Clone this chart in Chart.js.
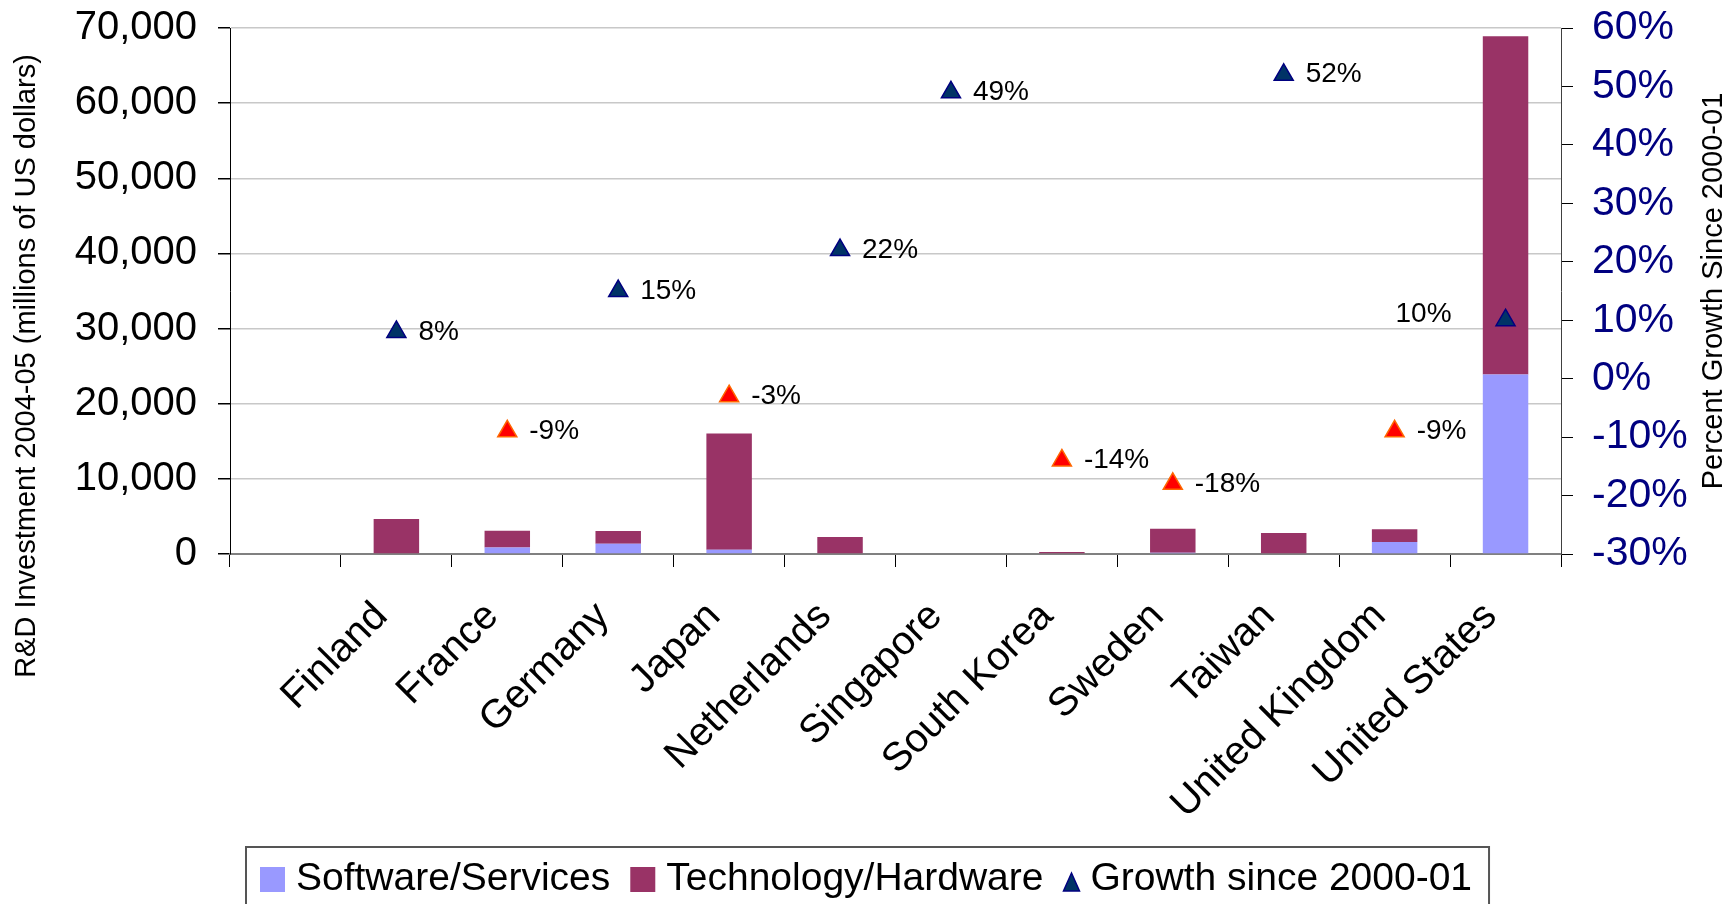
<!DOCTYPE html>
<html>
<head>
<meta charset="utf-8">
<title>R&amp;D Investment 2004-05</title>
<script src="https://cdn.jsdelivr.net/npm/chart.js@4.4.0/dist/chart.umd.min.js"></script>
<style>
  html, body { margin: 0; padding: 0; background: #fff; }
  #wrap { width: 1733px; height: 904px; }
</style>
</head>
<body>
<div id="wrap"><canvas id="chart-rd" width="1733" height="904"></canvas></div>
<script>
// categories: the first slot is left empty on purpose
const categories = ["", "Finland", "France", "Germany", "Japan", "Netherlands", "Singapore",
  "South Korea", "Sweden", "Taiwan", "United Kingdom", "United States"];

// R&D investment 2004-05 (millions of US dollars)
const softwareServices   = [null, 0, 850, 1350, 550, 0, 0, 0, 150, 0, 1600, 23900];
const technologyHardware = [null, 4650, 2250, 1700, 15500, 2250, 0, 270, 3200, 2800, 1700, 45000];

// percent growth since 2000-01
const growth = [null, 8, -9, 15, -3, 22, 49, -14, -18, 52, -9, 10];

// axis ticks
const investTicks = [0, 10000, 20000, 30000, 40000, 50000, 60000, 70000];
const growthTicks = [-30, -20, -10, 0, 10, 20, 30, 40, 50, 60];

const FONT = '"Liberation Sans", Arial, sans-serif';
const SW_COLOR = "#9999FF";
const HW_COLOR = "#993366";
const UP_FILL = "#003366", UP_LINE = "#000080";
const DOWN_FILL = "#FF0000", DOWN_LINE = "#FF6600";
const LEGEND_H = 58;

Chart.defaults.font.family = FONT;
Chart.defaults.color = "#000";

function drawTriangle(g, cx, bottom, w, h, fill, line) {
  g.beginPath();
  g.moveTo(cx, bottom - h);
  g.lineTo(cx + w / 2, bottom);
  g.lineTo(cx - w / 2, bottom);
  g.closePath();
  g.fillStyle = fill; g.fill();
  g.strokeStyle = line; g.lineWidth = 1.5; g.stroke();
}

// percent labels, axis titles and the boxed legend under the chart
const extras = {
  id: "extras",
  afterDatasetsDraw(chart) {
    const ctx = chart.ctx;
    const meta = chart.getDatasetMeta(2);
    ctx.save();
    ctx.font = "28px " + FONT;
    ctx.fillStyle = "#000";
    ctx.textBaseline = "middle";
    meta.data.forEach((pt, i) => {
      const v = growth[i];
      if (v === null) return;
      const txt = v + "%";
      if (categories[i] === "United States") {
        ctx.textAlign = "right";
        ctx.fillText(txt, pt.x - 54, pt.y - 6);
      } else {
        ctx.textAlign = "left";
        ctx.fillText(txt, pt.x + 22, pt.y);
      }
    });
    ctx.restore();
  },
  afterDraw(chart) {
    const ctx = chart.ctx;
    const area = chart.chartArea;
    ctx.save();
    ctx.font = "29px " + FONT;
    ctx.fillStyle = "#000";
    ctx.textAlign = "center";
    ctx.textBaseline = "middle";

    ctx.save();
    ctx.translate(27, 366);
    ctx.rotate(-Math.PI / 2);
    ctx.fillText("R&D Investment 2004-05 (millions of US dollars)", 0, 0);
    ctx.restore();

    ctx.save();
    ctx.translate(1714, (area.top + area.bottom) / 2);
    ctx.rotate(-Math.PI / 2);
    ctx.fillText("Percent Growth Since 2000-01", 0, 0);
    ctx.restore();

    // legend
    const ds = chart.data.datasets;
    const items = [
      { text: ds[0].label, icon: "box", color: SW_COLOR },
      { text: ds[1].label, icon: "box", color: HW_COLOR },
      { text: ds[2].label, icon: "tri" }
    ];
    const top = chart.height - LEGEND_H;
    const base = top + 44;
    const gapIcon = 11, gapItem = 20;
    ctx.font = "39px " + FONT;
    ctx.textAlign = "left";
    ctx.textBaseline = "alphabetic";
    const iconW = it => it.icon === "box" ? 25 : 16;
    let total = 0;
    items.forEach((it, i) => {
      it.w = ctx.measureText(it.text).width;
      total += iconW(it) + gapIcon + it.w + (i ? gapItem : 0);
    });
    let x = Math.round(chart.width / 2 - total / 2);
    const frameL = x - 14, frameR = x + total + 17;
    items.forEach(it => {
      if (it.icon === "box") {
        ctx.fillStyle = it.color;
        ctx.fillRect(x, top + 21, 25, 25);
      } else {
        drawTriangle(ctx, x + 8, base + 1, 16, 18, UP_FILL, UP_LINE);
      }
      x += iconW(it) + gapIcon;
      ctx.fillStyle = "#000";
      ctx.fillText(it.text, x, base);
      x += it.w + gapItem;
    });
    ctx.strokeStyle = "#555";
    ctx.lineWidth = 2;
    ctx.strokeRect(frameL, top + 1, frameR - frameL, LEGEND_H + 20);
    ctx.restore();
  }
};

const ctx = document.getElementById("chart-rd").getContext("2d");
new Chart(ctx, {
  type: "bar",
  data: {
    labels: categories,
    datasets: [
      {
        label: "Software/Services",
        data: softwareServices,
        backgroundColor: SW_COLOR,
        borderWidth: 0,
        yAxisID: "y",
        order: 2,
        categoryPercentage: 1,
        barPercentage: 0.41
      },
      {
        label: "Technology/Hardware",
        data: technologyHardware,
        backgroundColor: HW_COLOR,
        borderWidth: 0,
        yAxisID: "y",
        order: 2,
        categoryPercentage: 1,
        barPercentage: 0.41
      },
      {
        type: "line",
        label: "Growth since 2000-01",
        data: growth,
        yAxisID: "y1",
        showLine: false,
        order: 0,
        pointStyle: "triangle",
        pointRadius: 11,
        pointHoverRadius: 11,
        pointBorderWidth: 1.5,
        pointBackgroundColor: growth.map(v => v < 0 ? DOWN_FILL : UP_FILL),
        pointBorderColor: growth.map(v => v < 0 ? DOWN_LINE : UP_LINE)
      }
    ]
  },
  options: {
    responsive: false,
    animation: false,
    layout: { padding: { top: 28, left: 0, right: 0, bottom: LEGEND_H } },
    plugins: {
      tooltip: { enabled: false },
      legend: { display: false }
    },
    scales: {
      x: {
        stacked: true,
        offset: true,
        afterFit(scale) { scale.height = 292; },
        grid: { offset: true, drawOnChartArea: false, drawTicks: true, tickLength: 13, tickColor: "#000" },
        border: { color: "#808080", width: 2 },
        ticks: {
          autoSkip: false, minRotation: 45, maxRotation: 45,
          padding: 26, labelOffset: -15,
          font: { size: 40 }, color: "#000"
        }
      },
      y: {
        stacked: true,
        position: "left",
        min: investTicks[0],
        max: investTicks[investTicks.length - 1],
        afterFit(scale) { scale.width = 230; },
        afterBuildTicks(scale) { scale.ticks = investTicks.map(v => ({ value: v })); },
        grid: { color: "#C8C8C8", lineWidth: 1.5, tickLength: 12, tickColor: "#000" },
        border: { color: "#000", width: 1 },
        ticks: {
          padding: 21,
          // small lineHeight keeps the top label from pushing the plot down
          font: { size: 40, lineHeight: 0.15 },
          color: "#000",
          callback: v => v.toLocaleString("en-US")
        }
      },
      y1: {
        position: "right",
        min: growthTicks[0],
        max: growthTicks[growthTicks.length - 1],
        afterFit(scale) { scale.width = 172; },
        afterBuildTicks(scale) { scale.ticks = growthTicks.map(v => ({ value: v })); },
        grid: { drawOnChartArea: false, tickLength: 12, tickColor: "#000" },
        border: { color: "#404040", width: 1 },
        ticks: {
          padding: 19,
          font: { size: 41, lineHeight: 0.15 },
          color: "#000080",
          callback: v => v + "%"
        }
      }
    }
  },
  plugins: [extras]
});
</script>
</body>
</html>
